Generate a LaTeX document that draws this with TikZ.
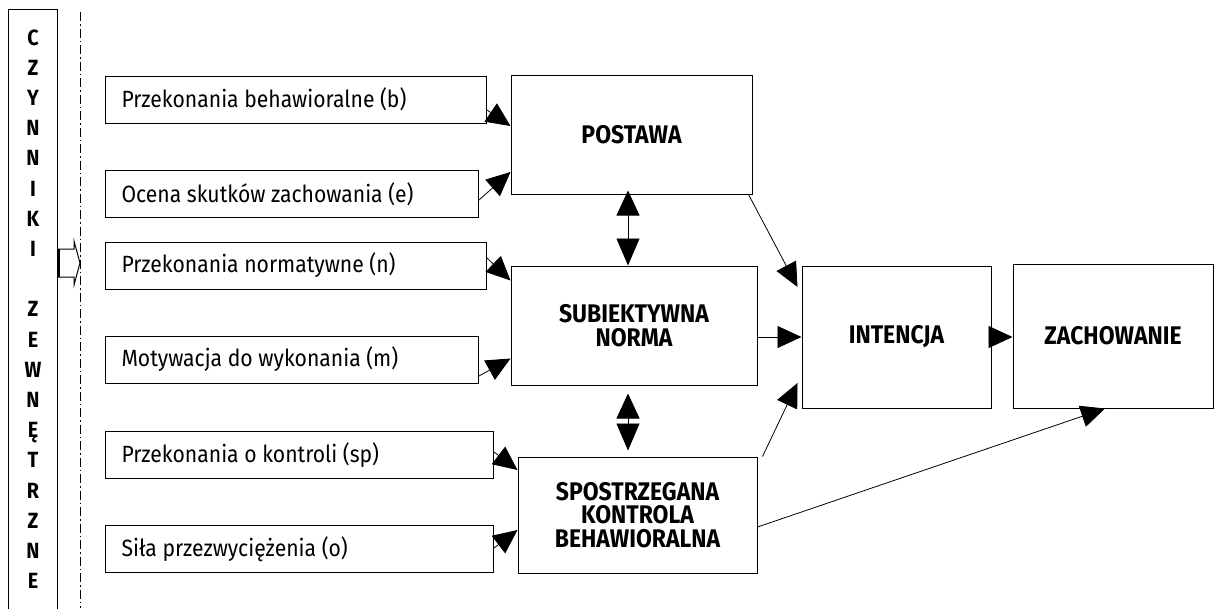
\documentclass[tikz,border=0pt]{standalone}
\usepackage{fontspec}
\setmainfont{Fira Sans}[FakeStretch=0.9]
\usetikzlibrary{arrows.meta,calc}
\begin{document}
\begin{tikzpicture}[x=1pt,y=-1pt,
  lbox/.style={draw,line width=1pt,minimum height=47pt,inner sep=0pt,anchor=west},
  lbtext/.style={font=\fontsize{23.5}{26}\selectfont},
  bigbox/.style={draw,line width=1pt,inner sep=0pt,align=center,font=\fontsize{25.5}{23.5}\selectfont\bfseries},
  arr/.style={line width=0.8pt,-{Triangle[length=24pt,width=22pt]}},
  darr/.style={line width=0.8pt,{Triangle[length=25pt,width=23pt]}-{Triangle[length=27pt,width=23pt]}}
]
\useasboundingbox (0,0) rectangle (1225,608);
% left column
\node[draw,line width=1pt,minimum width=49pt,minimum height=620pt,anchor=north west,inner sep=0pt] (ext) at (8,9) {};
\node[align=center,anchor=north,font=\fontsize{22}{30.2}\selectfont\bfseries] (exttext) at (33,26)
  {C\\Z\\Y\\N\\N\\I\\K\\I\\[30.2pt]Z\\E\\W\\N\\Ę\\T\\R\\Z\\N\\E};
\coordinate (dtop) at (80,12);
\coordinate (dbot) at (80,608);
\draw[line width=0.9pt,dash pattern=on 9pt off 3pt on 1.5pt off 3pt] (dtop) -- (dbot);
\draw[line width=1pt] (ext.east |- 0,249) -- ++(16,0) -- ++(0,-8) -- (80,263) -- (74,285) -- ++(0,-8) -- (57,277);
\draw[line width=2.5pt] (58.5,249) -- (58.5,277);
% left boxes
\node[lbox,minimum width=381pt] (b1) at (105,99.5) {};
\node[lbtext,anchor=west] at (118,99.5) {Przekonania behawioralne (b)};
\node[lbox,minimum width=373pt] (b2) at (105,194) {};
\node[lbtext,anchor=west] at (118,194) {Ocena skutków zachowania (e)};
\node[lbox,minimum width=381pt] (b3) at (105,265.5) {};
\node[lbtext,anchor=west] at (118,265.5) {Przekonania normatywne (n)};
\node[lbox,minimum width=373pt] (b4) at (105,359.5) {};
\node[lbtext,anchor=west] at (118,359.5) {Motywacja do wykonania (m)};
\node[lbox,minimum width=388pt] (b5) at (105,455) {};
\node[lbtext,anchor=west] at (118,455) {Przekonania o kontroli (sp)};
\node[lbox,minimum width=388pt] (b6) at (105,549) {};
\node[lbtext,anchor=west] at (118,549) {Siła przezwyciężenia (o)};
% big boxes
\node[bigbox,minimum width=241pt,minimum height=119pt] (pos) at (631.5,134.5) {POSTAWA};
\node[bigbox,minimum width=246pt,minimum height=119pt] (subj) at (634,325.5) {SUBIEKTYWNA\\NORMA};
\node[bigbox,minimum width=239pt,minimum height=116pt] (sp) at (637.5,515) {SPOSTRZEGANA\\KONTROLA\\BEHAWIORALNA};
\node[bigbox,minimum width=189pt,minimum height=142pt] (int) at (896.5,337) {INTENCJA};
\node[bigbox,minimum width=200pt,minimum height=144pt] (zach) at (1113,336) {ZACHOWANIE};
% connectors from left boxes
\draw[arr] ([yshift=-10.5pt]b1.east) -- ([yshift=8.5pt]pos.west);
\draw[arr] ([yshift=-6pt]b2.east) -- ([yshift=-37.5pt]pos.west);
\draw[arr] ([yshift=7.5pt]b3.east) -- ([yshift=45pt]subj.west);
\draw[arr] ([yshift=-16.5pt]b4.east) -- ([yshift=-33pt]subj.west);
\draw[arr] ([yshift=3pt]b5.east) -- ([yshift=45pt]sp.west);
\draw[arr] ([yshift=1pt]b6.east) -- ([yshift=-15pt]sp.west);
% double arrows
\draw[darr] ([yshift=4pt]pos.south -| 628,0) -- (628,0 |- subj.north);
\draw[darr] ([yshift=-8pt]subj.south -| 628,0) -- ([yshift=6pt]628,0 |- sp.north);
% to intencja
\draw[arr] ([xshift=-4pt]pos.south east) -- ([shift={(-4pt,50pt)}]int.west);
\draw[arr] (subj.east |- int.west) -- (int.west);
\draw[arr] ([xshift=5pt]sp.north east) -- ([shift={(-4pt,-46pt)}]int.west);
\draw[arr] (int.east) -- (int.east -| zach.west);
\draw[arr] ([yshift=-12pt]sp.east) -- ([xshift=-8pt]zach.south);
\end{tikzpicture}
\end{document}
